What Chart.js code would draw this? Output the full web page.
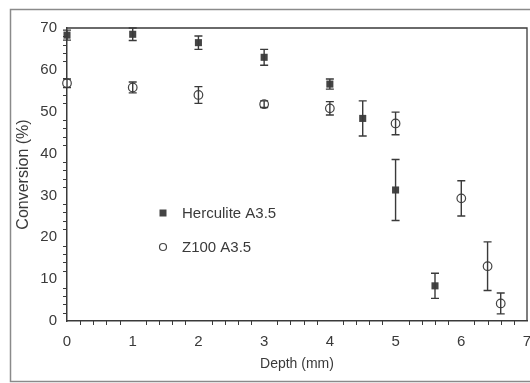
<!DOCTYPE html>
<html>
<head>
<meta charset="utf-8">
<script src="https://cdn.jsdelivr.net/npm/chart.js@4.4.1/dist/chart.umd.min.js"></script>
<style>
  html, body { margin: 0; padding: 0; background: #fff; }
  #wrap { width: 530px; height: 383px; position: relative; }
</style>
</head>
<body>
<div id="wrap"><canvas id="chart" width="530" height="383"></canvas></div>
<script>
// data
const hercDepth = [0, 1, 2, 3, 4, 4.5, 5, 5.6];
const hercConv  = [68.3, 68.5, 66.5, 63.0, 56.6, 48.4, 31.3, 8.4];
const hercErr   = [1.2, 1.5, 1.6, 1.9, 1.2, 4.2, 7.3, 3.0];

const zDepth = [0, 1, 2, 3, 4, 5, 6, 6.4, 6.6];
const zConv  = [56.8, 55.8, 54.0, 51.8, 50.8, 47.2, 29.3, 13.1, 4.2];
const zErr   = [1.0, 1.3, 2.0, 0.8, 1.6, 2.7, 4.2, 5.8, 2.5];

const xTicks = [0, 1, 2, 3, 4, 5, 6, 7];
const yTicks = [0, 10, 20, 30, 40, 50, 60, 70];
const legendLabels = ['Herculite A3.5', 'Z100 A3.5'];

const FONT = "'Liberation Sans', Arial, sans-serif";
const INK = '#3a3a3a';

function pts(xs, ys) {
    return xs.map((x, i) => ({ x: x, y: ys[i] }));
}

// error bars, minor ticks, frame and legend
const extras = {
    id: 'extras',
    beforeDraw(chart) {
        const ctx = chart.ctx;
        ctx.save();
        ctx.fillStyle = '#fff';
        ctx.fillRect(0, 0, chart.width, chart.height);
        ctx.strokeStyle = '#8a8a8a';
        ctx.lineWidth = 1.5;
        ctx.strokeRect(10.5, 9.5, 540, 372);
        ctx.restore();
    },
    afterDatasetsDraw(chart) {
        const ctx = chart.ctx;
        const xs = chart.scales.x, ys = chart.scales.y;
        const area = chart.chartArea;
        ctx.save();
        ctx.strokeStyle = INK;
        ctx.lineWidth = 1.3;
        // top and right border of plot box
        ctx.beginPath();
        ctx.moveTo(area.left, area.top);
        ctx.lineTo(area.right, area.top);
        ctx.lineTo(area.right, area.bottom);
        ctx.stroke();
        // minor ticks
        ctx.lineWidth = 1;
        ctx.beginPath();
        for (let v = 0; v <= 70; v += 2) {
            if (v % 10 === 0) continue;
            const py = Math.round(ys.getPixelForValue(v)) + 0.5;
            ctx.moveTo(area.left - 4, py);
            ctx.lineTo(area.left, py);
        }
        for (let k = 0; k <= 35; k++) {
            if (k % 5 === 0) continue;
            const px = Math.round(xs.getPixelForValue(k / 5)) + 0.5;
            ctx.moveTo(px, area.bottom);
            ctx.lineTo(px, area.bottom + 4);
        }
        ctx.stroke();
        // error bars
        ctx.lineWidth = 1.4;
        const sets = [[hercDepth, hercConv, hercErr], [zDepth, zConv, zErr]];
        sets.forEach(([dx, dy, de]) => {
            dx.forEach((x, i) => {
                const px = xs.getPixelForValue(x);
                const top = ys.getPixelForValue(dy[i] + de[i]);
                const bot = ys.getPixelForValue(dy[i] - de[i]);
                ctx.beginPath();
                ctx.moveTo(px, top); ctx.lineTo(px, bot);
                ctx.moveTo(px - 4, top); ctx.lineTo(px + 4, top);
                ctx.moveTo(px - 4, bot); ctx.lineTo(px + 4, bot);
                ctx.stroke();
            });
        });
        ctx.restore();
    },
    afterDraw(chart) {
        const ctx = chart.ctx;
        ctx.save();
        ctx.font = '15px ' + FONT;
        ctx.textBaseline = 'middle';
        ctx.textAlign = 'left';
        const lx = 163, ly = [213, 247];
        // square
        ctx.fillStyle = '#444';
        ctx.fillRect(lx - 3.5, ly[0] - 3.5, 7, 7);
        // circle
        ctx.strokeStyle = '#444';
        ctx.lineWidth = 1.2;
        ctx.beginPath();
        ctx.arc(lx, ly[1], 3.5, 0, Math.PI * 2);
        ctx.stroke();
        ctx.fillStyle = INK;
        legendLabels.forEach((t, i) => ctx.fillText(t, 182, ly[i] + 1));
        ctx.restore();
    }
};

const ctx = document.getElementById('chart').getContext('2d');
new Chart(ctx, {
    type: 'scatter',
    data: {
        datasets: [
            {
                label: legendLabels[0],
                data: pts(hercDepth, hercConv),
                pointStyle: 'rect',
                pointRadius: 5,
                backgroundColor: '#444',
                borderColor: '#444',
                borderWidth: 0,
                clip: false
            },
            {
                label: legendLabels[1],
                data: pts(zDepth, zConv),
                pointStyle: 'circle',
                pointRadius: 4.3,
                backgroundColor: '#fff',
                borderColor: '#444',
                borderWidth: 1.2,
                clip: false
            }
        ]
    },
    options: {
        responsive: false,
        animation: false,
        layout: { autoPadding: false, padding: { left: 0, right: 3, top: 28, bottom: 0 } },
        plugins: { legend: { display: false }, tooltip: { enabled: false } },
        scales: {
            x: {
                type: 'linear',
                min: 0,
                max: 7,
                afterBuildTicks: s => { s.ticks = xTicks.map(v => ({ value: v })); },
                afterFit: s => { s.height = 62; s.paddingLeft = 0; s.paddingRight = 0; },
                grid: { display: false, drawOnChartArea: false, drawTicks: true, tickLength: 6, tickColor: INK },
                border: { display: true, color: INK, width: 1.5 },
                ticks: { color: INK, padding: 6, font: { family: FONT, size: 15 }, maxRotation: 0 },
                title: {
                    display: true, text: 'Depth (mm)', color: INK,
                    font: { family: FONT, size: 14 }, padding: { top: 0, bottom: 10 }
                }
            },
            y: {
                min: 0,
                max: 70,
                afterBuildTicks: s => { s.ticks = yTicks.map(v => ({ value: v })); },
                afterFit: s => { s.width = 67; s.paddingTop = 0; s.paddingBottom = 0; },
                grid: { display: false, drawOnChartArea: false, drawTicks: true, tickLength: 6, tickColor: INK },
                border: { display: true, color: INK, width: 1.5 },
                ticks: { color: INK, padding: 4, font: { family: FONT, size: 15 } },
                title: {
                    display: true, text: 'Conversion (%)', color: INK,
                    font: { family: FONT, size: 16 }, padding: { top: 14, bottom: 0 }
                }
            }
        }
    },
    plugins: [extras]
});
</script>
</body>
</html>
